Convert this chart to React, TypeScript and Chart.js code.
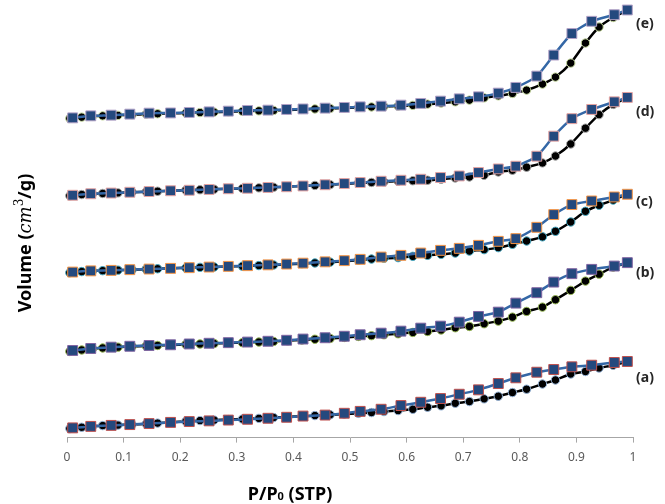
import React, { useEffect, useRef } from "react";
import { Chart, registerables } from "chart.js";

Chart.register(...registerables);

// Relative pressure P/P0 of the adsorption (circles) and desorption (squares) branches
const adsP = [0.005, 0.026, 0.045, 0.063, 0.09, 0.115, 0.14, 0.16, 0.185, 0.21, 0.235, 0.26, 0.285, 0.31, 0.339, 0.365, 0.39, 0.415, 0.438, 0.465, 0.49, 0.515, 0.538, 0.56, 0.585, 0.611, 0.637, 0.661, 0.686, 0.711, 0.737, 0.762, 0.787, 0.812, 0.84, 0.863, 0.89, 0.916, 0.94, 0.965, 0.99];
const desP = [0.010, 0.042, 0.078, 0.111, 0.145, 0.183, 0.216, 0.251, 0.285, 0.319, 0.355, 0.388, 0.417, 0.456, 0.490, 0.518, 0.555, 0.590, 0.625, 0.660, 0.693, 0.727, 0.762, 0.793, 0.830, 0.860, 0.892, 0.927, 0.967, 0.990];

// Volume (offset, arbitrary units) — adsorption branches
const adsA = [9, 10.3, 11.2, 12, 12.5, 13, 13.7, 14.5, 15.3, 16.2, 17, 17.5, 18, 18.5, 19.2, 20, 20.7, 21.3, 22, 22.8, 23.5, 24.2, 25, 26, 27, 28.3, 30.3, 31.7, 34.3, 36, 38.7, 41.3, 45, 48.3, 53.5, 57.5, 63.5, 66, 69.5, 72.3, 76];
const adsB = [86, 87.5, 88.7, 89.5, 90.3, 91, 91.5, 92, 92.5, 93, 93.5, 94, 94.4, 94.8, 95.4, 96, 96.7, 97.5, 98.2, 99, 100, 101, 101.8, 102.7, 103.7, 105, 106, 107.5, 109.7, 111, 113.7, 116.3, 120.3, 126, 130.3, 137.7, 147, 156.3, 163.2, 170.3, 174.7];
const adsC = [164.7, 165.8, 166.3, 166.7, 167.2, 167.7, 168.2, 168.6, 169, 169.5, 170, 170.4, 170.8, 171.2, 171.8, 172.4, 173, 173.7, 174.4, 175.2, 176.2, 177.2, 178.3, 179, 179.7, 181, 182, 183, 184.3, 186.3, 187.7, 189.7, 193, 196.3, 200.5, 206, 215.3, 226, 232, 237.2, 243];
const adsD = [241.5, 242.7, 243.3, 243.8, 244.4, 245, 245.5, 246, 246.5, 247, 247.5, 248, 248.4, 248.8, 249.4, 250, 250.6, 251.2, 251.8, 252.6, 253.4, 254.2, 254.8, 255.4, 256, 256.5, 257, 258, 259.3, 260.3, 262, 265.3, 267, 270, 274.3, 281.2, 293.2, 309, 322.5, 332.7, 339.7];
const adsE = [318.7, 320, 320.8, 321.3, 321.8, 322.4, 323, 323.4, 323.8, 324.2, 324.6, 325, 325.4, 325.8, 326.3, 326.7, 327.2, 327.7, 328.2, 328.7, 329.2, 329.7, 330.2, 330.6, 331, 331.8, 333, 334, 335.3, 337, 339.3, 341.3, 343.7, 347, 353, 360, 374, 394, 410, 419.5, 427];

// Desorption branches
const desA = [9.7, 11.2, 12.2, 13, 14, 15.2, 16, 16.7, 17.5, 18.3, 19.3, 20.3, 21.5, 22.5, 24.3, 26.2, 28.3, 32, 35.3, 39, 43.3, 47.7, 54, 59.7, 65.3, 68, 70.7, 72.3, 75, 76];
const desB = [87, 89, 90.3, 91.2, 92, 92.7, 93.5, 94.2, 94.8, 95.4, 96.2, 97.2, 98.4, 99.7, 101.2, 102.7, 104.3, 106.3, 109.3, 111.3, 115.3, 121, 125.3, 134.3, 144.7, 155.3, 163.7, 168, 171.3, 174.7];
const desC = [165.3, 166.5, 167, 167.7, 168.3, 169, 169.7, 170.3, 171, 171.7, 172.5, 173.3, 174.2, 175.5, 176.7, 178, 180.3, 182, 184.3, 187, 189, 192, 196, 198.7, 210, 222.7, 232.7, 236.3, 240.3, 243];
const desD = [242, 243.5, 244.2, 245, 245.7, 246.5, 247, 247.8, 248.5, 249, 249.8, 250.5, 251.3, 252.5, 253.7, 254.7, 256, 257, 258, 259.7, 261.3, 264.7, 268.3, 271, 281, 301, 318.5, 327.7, 335.3, 339.7];
const desE = [319.3, 321.3, 322, 323, 324, 324.2, 324.7, 325.3, 326, 326.7, 327, 327.7, 328.2, 329, 329.7, 330.3, 331, 332, 333.7, 336, 338.3, 340.3, 344, 349.7, 361, 382, 403.5, 415.7, 422.3, 427];

const sampleNames = ["(a)", "(b)", "(c)", "(d)", "(e)"];
const sampleLabelY = [60, 164, 235, 325, 413];
const adsSeries = [adsA, adsB, adsC, adsD, adsE];
const desSeries = [desA, desB, desC, desD, desE];

const squareEdge = ["#c0504d", "#8064a2", "#f79646", "#e6a3a1", "#b3a2c7"];
const circleEdge = ["#95b3d7", "#9bbb59", "#4bacc6", "#a6a6a6", "#c3d69b"];

const toPts = (xs: number[], ys: number[]) => xs.map((x, i) => ({ x, y: ys[i] }));

const textPlugin = {
  id: "textPlugin",
  afterDraw(chart: any) {
    const ctx = chart.ctx;
    const xs = chart.scales.x;
    const ys = chart.scales.y;
    ctx.save();
    // sample labels
    ctx.fillStyle = "#262626";
    ctx.font = "bold 14px 'Noto Sans'";
    ctx.textAlign = "left";
    ctx.textBaseline = "middle";
    sampleNames.forEach((n, i) => {
      ctx.fillText(n, xs.getPixelForValue(1) + 3, ys.getPixelForValue(sampleLabelY[i]));
    });

    // x title: P/P0 (STP)
    const big = "bold 18px 'Noto Sans'";
    const small = "bold 11px 'Noto Sans'";
    ctx.textBaseline = "alphabetic";
    ctx.fillStyle = "#000";
    const partsX = [
      { t: "P/P", f: big, dy: 0 },
      { t: "0", f: small, dy: 0 },
      { t: " (STP)", f: big, dy: 0 },
    ];
    let wx = 0;
    partsX.forEach((p) => { ctx.font = p.f; wx += ctx.measureText(p.t).width; });
    let cx = 290 - wx / 2;
    const by = 500;
    partsX.forEach((p) => { ctx.font = p.f; ctx.fillText(p.t, cx, by + p.dy); cx += ctx.measureText(p.t).width; });

    // y title: Volume (cm^3/g)
    const partsY = [
      { t: "Volume (", f: "bold 18px 'Noto Sans'", dy: 0 },
      { t: "cm", f: "italic 18px 'DejaVu Serif'", dy: 0 },
      { t: "3", f: "12px 'DejaVu Serif'", dy: -8 },
      { t: "/g)", f: "bold 18px 'Noto Sans'", dy: 0 },
    ];
    let wy = 0;
    partsY.forEach((p) => { ctx.font = p.f; wy += ctx.measureText(p.t).width; });
    ctx.translate(31, 243);
    ctx.rotate(-Math.PI / 2);
    let cy = -wy / 2;
    partsY.forEach((p) => { ctx.font = p.f; ctx.fillText(p.t, cy, p.dy); cy += ctx.measureText(p.t).width; });
    ctx.restore();
  },
};

export default function App() {
  const ref = useRef<HTMLCanvasElement | null>(null);
  useEffect(() => {
    if (!ref.current) return;
    const datasets: any[] = [];
    desSeries.forEach((d, i) => {
      datasets.push({
        label: "des " + sampleNames[i],
        data: toPts(desP, d),
        borderColor: "#3467a6",
        borderWidth: 2.5,
        backgroundColor: "#27508a",
        pointStyle: "rect",
        pointRadius: 7,
        pointBorderColor: squareEdge[i],
        pointBorderWidth: 1,
        pointBackgroundColor: "#24497e",
        tension: 0.2,
        clip: false,
      });
    });
    adsSeries.forEach((d, i) => {
      datasets.push({
        label: "ads " + sampleNames[i],
        data: toPts(adsP, d),
        borderColor: "#000",
        borderWidth: 2.5,
        backgroundColor: "#000",
        pointStyle: "circle",
        pointRadius: 4.2,
        pointBorderColor: circleEdge[i],
        pointBorderWidth: 1,
        pointBackgroundColor: "#000",
        tension: 0.2,
        clip: false,
      });
    });
    const chart = new Chart(ref.current, {
      type: "line",
      data: { datasets },
      options: {
        animation: false,
        responsive: false,
        maintainAspectRatio: false,
        layout: { padding: { left: 67, right: 32, top: 8, bottom: 31 } },
        plugins: { legend: { display: false }, tooltip: { enabled: false } },
        scales: {
          x: {
            type: "linear",
            min: 0,
            max: 1,
            grid: { display: true, drawOnChartArea: false, drawTicks: true, tickLength: 5, color: "#a6a6a6" },
            border: { display: true, color: "#a6a6a6", width: 1 },
            ticks: {
              stepSize: 0.1,
              padding: 8,
              color: "#595959",
              font: { family: "'Noto Sans'", size: 12 },
              callback: (v: any) => String(Number(Number(v).toFixed(1))),
            },
          },
          y: { type: "linear", min: 0, max: 429, display: false },
        },
      },
      plugins: [textPlugin],
    } as any);
    return () => chart.destroy();
  }, []);
  return (
    <div style={{ position: "absolute", left: 0, top: 0, width: 665, height: 504 }}>
      <canvas ref={ref} width={665} height={504} style={{ width: 665, height: 504, display: "block" }} />
    </div>
  );
}
